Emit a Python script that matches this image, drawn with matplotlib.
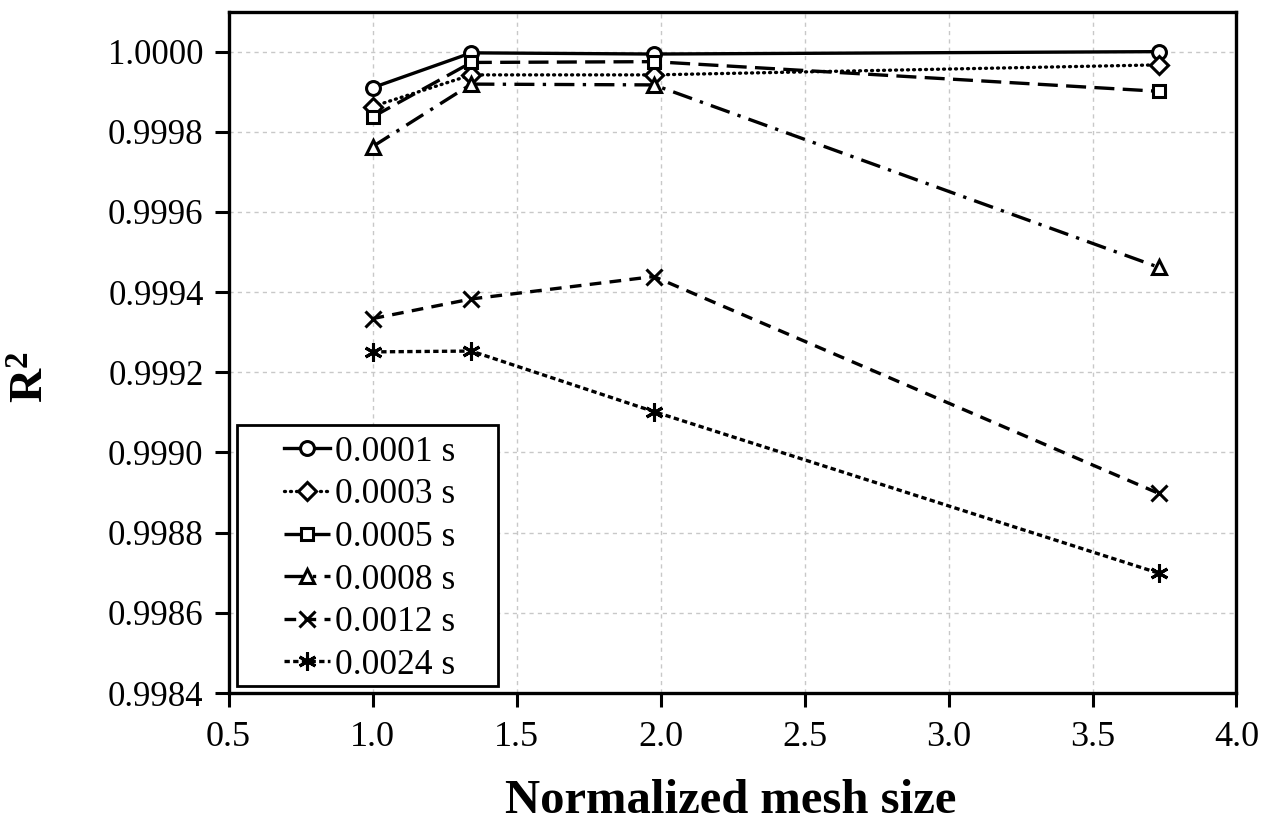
import matplotlib
matplotlib.use('Agg')
import matplotlib.pyplot as plt
from matplotlib.patches import Rectangle

# ─── Data ────────────────────────────────────────────────────────────
mesh = [1.0, 1.343, 1.977, 3.73]

r2_0001 = [0.99991, 0.999997, 0.999994, 1.000000]
r2_0003 = [0.999863, 0.999942, 0.999942, 0.999967]
r2_0005 = [0.999837, 0.999973, 0.999975, 0.999901]
r2_0008 = [0.999763, 0.999919, 0.999917, 0.999462]
r2_0012 = [0.999334, 0.999383, 0.999439, 0.998898]
r2_0024 = [0.999251, 0.999253, 0.999102, 0.998699]

labels = ['0.0001 s', '0.0003 s', '0.0005 s', '0.0008 s', '0.0012 s', '0.0024 s']
series = [r2_0001, r2_0003, r2_0005, r2_0008, r2_0012, r2_0024]

# ─── Styles ──────────────────────────────────────────────────────────
styles = [
    dict(ls='-', marker='o', ms=10, cap='butt'),
    dict(ls=(0, (0.3, 1.5)), marker='D', ms=9, cap='round'),
    dict(ls=(0, (6, 2.5)), marker='s', ms=9, cap='butt'),
    dict(ls=(0, (6, 2.5, 1, 2.5)), marker='^', ms=10, cap='butt'),
    dict(ls=(0, (3.5, 2.5)), marker='x', ms=12, cap='butt'),
    dict(ls=(0, (1.6, 1.0)), marker=(6, 2, 0), ms=13, cap='butt'),
]

plt.rcParams['font.family'] = ['Liberation Serif', 'DejaVu Serif']
plt.rcParams['mathtext.fontset'] = 'custom'
plt.rcParams['mathtext.bf'] = 'Liberation Serif:bold'

fig = plt.figure(figsize=(12.84, 8.25), dpi=100)
ax = fig.add_axes([0.178, 0.16, 0.785, 0.826])

for y, lab, st in zip(series, labels, styles):
    ax.plot(mesh, y, color='black', lw=2.4, linestyle=st['ls'],
            dash_capstyle=st['cap'],
            marker=st['marker'], markersize=st['ms'],
            markerfacecolor='white', markeredgecolor='black',
            markeredgewidth=2.2, label=lab)

ax.set_xlim(0.5, 4.0)
ax.set_ylim(0.9984, 1.0001)
ax.set_xticks([0.5, 1.0, 1.5, 2.0, 2.5, 3.0, 3.5, 4.0])
ax.set_yticks([0.9984 + 0.0002 * i for i in range(9)])
ax.set_xticklabels([f'{v:.1f}' for v in ax.get_xticks()])
ax.set_yticklabels([f'{v:.4f}' for v in ax.get_yticks()])
ax.tick_params(direction='out', length=10, width=2.2)
ax.tick_params(axis='y', labelsize=25, pad=8)
ax.tick_params(axis='x', labelsize=26, pad=10)

ax.grid(True, color='#c8c8c8', linestyle=(0, (3, 3)), linewidth=1.0)
ax.set_axisbelow(True)
for sp in ax.spines.values():
    sp.set_linewidth(2.4)

ax.set_xlabel('Normalized mesh size', fontsize=35, fontweight='bold')
ax.xaxis.set_label_coords(0.498, -0.126)
ax.set_ylabel('R$\\mathbf{^2}$', fontsize=34, fontweight='bold')
ax.yaxis.set_label_coords(-0.173, 0.463)

# Excel-style legend box: roomy frame, entries centred inside
ax.add_patch(Rectangle((0.008, 0.010), 0.259, 0.383, transform=ax.transAxes,
                       facecolor='white', edgecolor='black', lw=2.0, zorder=4.9))
leg = ax.legend(loc='center', bbox_to_anchor=(0.140, 0.197), fontsize=25.5,
                frameon=False, handlelength=1.3, handletextpad=0.14,
                labelspacing=0.27, borderpad=0.0, markerscale=1.0)

fig.savefig('out.png', dpi=100, facecolor='white')
